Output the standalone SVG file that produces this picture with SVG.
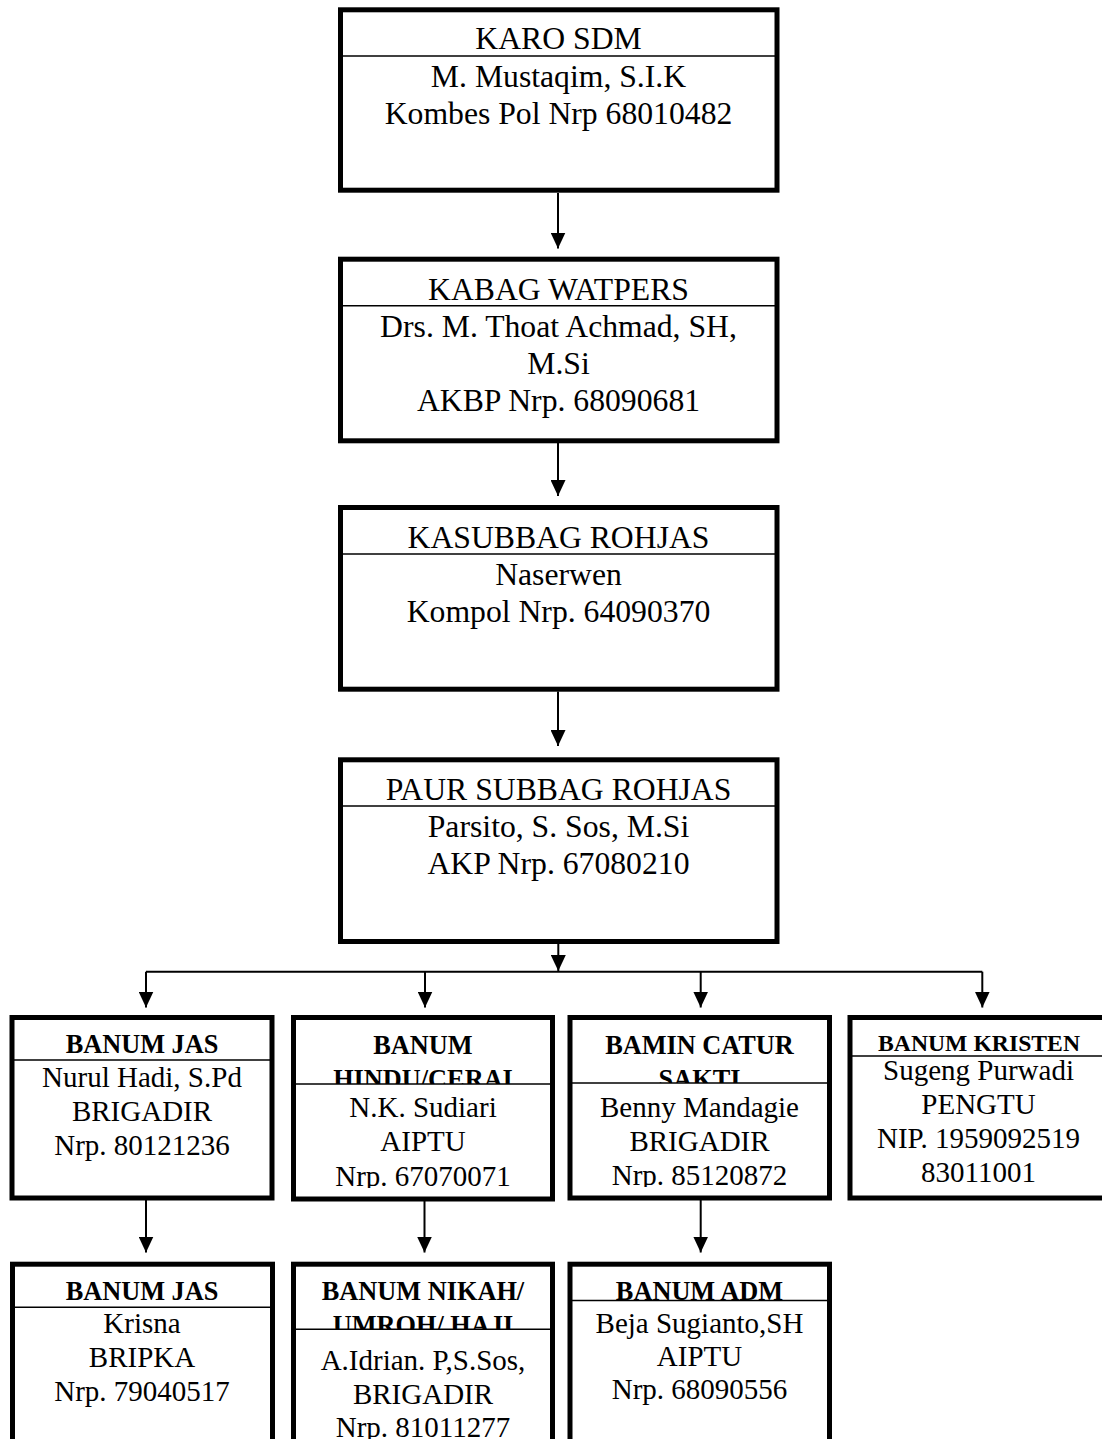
<svg xmlns="http://www.w3.org/2000/svg" width="1102" height="1439" viewBox="0 0 1102 1439">
<style>
.box{fill:#fff;stroke:#000;stroke-width:5}
.dv{stroke:#000;stroke-width:1.4}
.t{font-family:"Liberation Serif","Times New Roman",serif;font-size:31.7px;text-anchor:middle;fill:#000}
.s{font-size:29px}
.h{font-weight:bold;font-size:26.3px}
.hk{font-weight:bold;font-size:23.7px}
.cn{stroke:#000;stroke-width:2;fill:none}
.ar{stroke:#000;stroke-width:2;fill:none;marker-end:url(#ah)}
</style>
<defs>
<marker id="ah" viewBox="0 0 16 15" markerWidth="16" markerHeight="15" markerUnits="userSpaceOnUse" refX="16" refY="7.5" orient="auto">
<path d="M0,0 L16,7.5 L0,15 z" fill="#000"/>
</marker>
<clipPath id="c2h" clipPathUnits="userSpaceOnUse"><rect x="296" y="1020" width="254" height="64"/></clipPath>
<clipPath id="c2b" clipPathUnits="userSpaceOnUse"><rect x="296" y="1084" width="254" height="104"/></clipPath>
<clipPath id="c3h" clipPathUnits="userSpaceOnUse"><rect x="572" y="1020" width="255" height="63"/></clipPath>
<clipPath id="c3b" clipPathUnits="userSpaceOnUse"><rect x="572" y="1083" width="255" height="104"/></clipPath>
<clipPath id="c5h" clipPathUnits="userSpaceOnUse"><rect x="296" y="1266" width="254" height="63"/></clipPath>
<clipPath id="c6h" clipPathUnits="userSpaceOnUse"><rect x="572" y="1266" width="255" height="34.5"/></clipPath>
</defs>

<g id="connectors">
<line class="ar" x1="558" y1="193" x2="558" y2="248.5"/>
<line class="ar" x1="558" y1="443" x2="558" y2="496"/>
<line class="ar" x1="558" y1="691.5" x2="558" y2="746"/>
<line class="ar" x1="558.3" y1="944" x2="558.3" y2="971"/>
<line class="cn" x1="146" y1="971.7" x2="982.3" y2="971.7"/>
<line class="ar" x1="146" y1="971.7" x2="146" y2="1007.5"/>
<line class="ar" x1="425" y1="971.7" x2="425" y2="1007.5"/>
<line class="ar" x1="700.7" y1="971.7" x2="700.7" y2="1007.5"/>
<line class="ar" x1="982.3" y1="971.7" x2="982.3" y2="1007.5"/>
<line class="ar" x1="146" y1="1200" x2="146" y2="1252.5"/>
<line class="ar" x1="424.5" y1="1200" x2="424.5" y2="1252.5"/>
<line class="ar" x1="700.7" y1="1200" x2="700.7" y2="1252.5"/>
</g>

<g id="karo-sdm">
<rect class="box" x="340.5" y="9.8" width="436.5" height="180.4"/>
<line class="dv" x1="340.5" y1="56" x2="777" y2="56"/>
<text class="t" x="558.5" y="49.3">KARO SDM</text>
<text class="t" x="558.5" y="87.3">M. Mustaqim, S.I.K</text>
<text class="t" x="558.5" y="124">Kombes Pol Nrp 68010482</text>
</g>

<g id="kabag-watpers">
<rect class="box" x="340.5" y="259.2" width="436.5" height="181.6"/>
<line class="dv" x1="340.5" y1="305.7" x2="777" y2="305.7"/>
<text class="t" x="558.5" y="300">KABAG WATPERS</text>
<text class="t" x="558.5" y="336.7">Drs. M. Thoat Achmad, SH,</text>
<text class="t" x="558.5" y="374.3">M.Si</text>
<text class="t" x="558.5" y="411">AKBP Nrp. 68090681</text>
</g>

<g id="kasubbag-rohjas">
<rect class="box" x="340.5" y="507.5" width="436.5" height="181.7"/>
<line class="dv" x1="340.5" y1="554" x2="777" y2="554"/>
<text class="t" x="558.5" y="548">KASUBBAG ROHJAS</text>
<text class="t" x="558.5" y="585">Naserwen</text>
<text class="t" x="558.5" y="622">Kompol Nrp. 64090370</text>
</g>

<g id="paur-subbag-rohjas">
<rect class="box" x="340.5" y="759.8" width="436.5" height="181.7"/>
<line class="dv" x1="340.5" y1="806" x2="777" y2="806"/>
<text class="t" x="558.5" y="800">PAUR SUBBAG ROHJAS</text>
<text class="t" x="558.5" y="836.7">Parsito, S. Sos, M.Si</text>
<text class="t" x="558.5" y="874">AKP Nrp. 67080210</text>
</g>

<g id="banum-jas-1">
<rect class="box" x="12" y="1017.5" width="260" height="180.5"/>
<line class="dv" x1="12" y1="1060" x2="272" y2="1060"/>
<text class="t h" x="142" y="1053.3">BANUM JAS</text>
<text class="t s" x="142" y="1087">Nurul Hadi, S.Pd</text>
<text class="t s" x="142" y="1121">BRIGADIR</text>
<text class="t s" x="142" y="1154.5">Nrp. 80121236</text>
</g>

<g id="banum-hindu-cerai">
<rect class="box" x="293.5" y="1017.5" width="259" height="181.5"/>
<line class="dv" x1="293.5" y1="1084" x2="552.5" y2="1084"/>
<g clip-path="url(#c2h)">
<text class="t h" x="423" y="1054.3">BANUM</text>
<text class="t h" x="423" y="1088">HINDU/CERAI</text>
</g>
<g clip-path="url(#c2b)">
<text class="t s" x="423" y="1117">N.K. Sudiari</text>
<text class="t s" x="423" y="1151">AIPTU</text>
<text class="t s" x="423" y="1185.5">Nrp. 67070071</text>
</g>
</g>

<g id="bamin-catur-sakti">
<rect class="box" x="570" y="1017.5" width="259.5" height="180.5"/>
<line class="dv" x1="570" y1="1083" x2="829.5" y2="1083"/>
<g clip-path="url(#c3h)">
<text class="t h" x="699.5" y="1054.3">BAMIN CATUR</text>
<text class="t h" x="699.5" y="1087.5">SAKTI</text>
</g>
<g clip-path="url(#c3b)">
<text class="t s" x="699.5" y="1117">Benny Mandagie</text>
<text class="t s" x="699.5" y="1151">BRIGADIR</text>
<text class="t s" x="699.5" y="1185">Nrp. 85120872</text>
</g>
</g>

<g id="banum-kristen">
<rect class="box" x="850" y="1017.5" width="262" height="180.5"/>
<line class="dv" x1="850" y1="1056" x2="1112" y2="1056"/>
<text class="t hk" x="979" y="1050.7">BANUM KRISTEN</text>
<text class="t s" x="978.5" y="1079.5">Sugeng Purwadi</text>
<text class="t s" x="978.5" y="1113.5">PENGTU</text>
<text class="t s" x="978.5" y="1147.5">NIP. 1959092519</text>
<text class="t s" x="978.5" y="1181.5">83011001</text>
</g>

<g id="banum-jas-2">
<rect class="box" x="12.5" y="1264.2" width="260" height="200"/>
<line class="dv" x1="12.5" y1="1307.3" x2="272.5" y2="1307.3"/>
<text class="t h" x="142" y="1300">BANUM JAS</text>
<text class="t s" x="142" y="1332.5">Krisna</text>
<text class="t s" x="142" y="1366.7">BRIPKA</text>
<text class="t s" x="142" y="1400.5">Nrp. 79040517</text>
</g>

<g id="banum-nikah-umroh-haji">
<rect class="box" x="293.5" y="1264.2" width="259" height="200"/>
<line class="dv" x1="293.5" y1="1329.3" x2="552.5" y2="1329.3"/>
<g clip-path="url(#c5h)">
<text class="t h" x="423" y="1300">BANUM NIKAH/</text>
<text class="t h" x="423" y="1333.5">UMROH/ HAJI</text>
</g>
<text class="t s" x="423" y="1370">A.Idrian. P,S.Sos,</text>
<text class="t s" x="423" y="1403.5">BRIGADIR</text>
<text class="t s" x="423" y="1437">Nrp. 81011277</text>
</g>

<g id="banum-adm">
<rect class="box" x="570" y="1264.2" width="259.5" height="200"/>
<line class="dv" x1="570" y1="1300.5" x2="829.5" y2="1300.5"/>
<g clip-path="url(#c6h)">
<text class="t h" x="699.5" y="1300">BANUM ADM</text>
</g>
<text class="t s" x="699.5" y="1332.7">Beja Sugianto,SH</text>
<text class="t s" x="699.5" y="1365.5">AIPTU</text>
<text class="t s" x="699.5" y="1399.3">Nrp. 68090556</text>
</g>
</svg>
